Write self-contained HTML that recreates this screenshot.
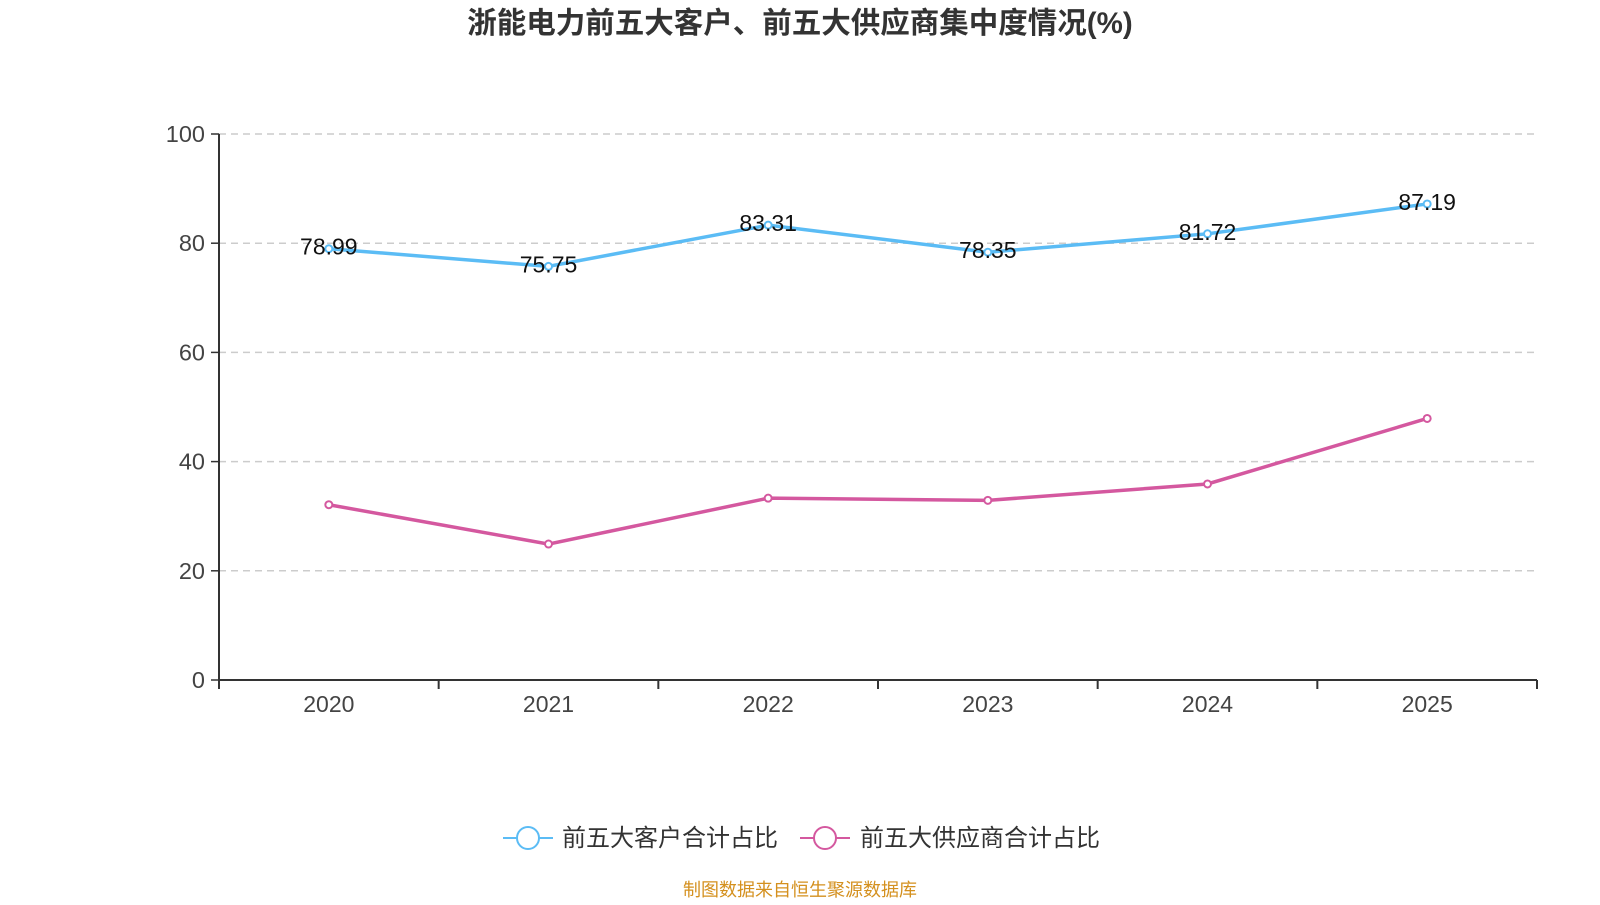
<!DOCTYPE html>
<html><head><meta charset="utf-8"><style>
body{margin:0;background:#fff;width:1600px;height:900px;overflow:hidden;font-family:"Liberation Sans","Noto Sans CJK SC",sans-serif}
</style></head><body>
<svg id="c" width="1600" height="900" xmlns="http://www.w3.org/2000/svg">
<text x="800" y="33" text-anchor="middle" font-size="29.5" font-weight="bold" fill="#333">浙能电力前五大客户、前五大供应商集中度情况(%)</text>
<g id="grid"></g><g id="axes"></g><g id="series"></g>
<g>
<g><line x1="503" y1="838" x2="553" y2="838" stroke="#5bbcf5" stroke-width="2"/><circle cx="528" cy="838" r="11" fill="#fff" stroke="#5bbcf5" stroke-width="2"/><text x="562" y="846" font-size="24" fill="#333">前五大客户合计占比</text></g>
<g><line x1="800" y1="838" x2="850" y2="838" stroke="#d4589f" stroke-width="2"/><circle cx="825" cy="838" r="11" fill="#fff" stroke="#d4589f" stroke-width="2"/><text x="860" y="846" font-size="24" fill="#333">前五大供应商合计占比</text></g>
</g>
<text x="800" y="896" text-anchor="middle" font-size="18" fill="#d4901e">制图数据来自恒生聚源数据库</text>
</svg>
<script>
const categories=["2020","2021","2022","2023","2024","2025"];
const customers=[78.99,75.75,83.31,78.35,81.72,87.19];
const suppliers=[32.1,24.9,33.3,32.9,35.9,47.9];
const yTicks=[0,20,40,60,80,100];
const NS="http://www.w3.org/2000/svg";
const L=219,R=1537,T=134,B=680;
const bw=(R-L)/categories.length;
const x=i=>L+bw*(i+0.5);
const y=v=>B-(v/100)*(B-T);
function mk(tag,attrs,parent,txt){const e=document.createElementNS(NS,tag);for(const k in attrs)e.setAttribute(k,attrs[k]);if(txt!==undefined)e.textContent=txt;document.getElementById(parent).appendChild(e);return e;}
yTicks.forEach(t=>{
 if(t>0){const g=mk('line',{x1:L,x2:R,y1:y(t),y2:y(t),stroke:'#ccc','stroke-width':1.5,'stroke-dasharray':'7,5'},'grid');
 
 }
 const tk=mk('line',{x1:L-8,x2:L,y1:y(t),y2:y(t),stroke:'#333','stroke-width':1.5},'axes');
 
 
 const lb=mk('text',{x:L-14,y:y(t)+8,'text-anchor':'end','font-size':23.5,fill:'#444'},'axes',t);
 
 
});
const ya=mk('line',{x1:L,x2:L,y1:T,y2:B,stroke:'#333','stroke-width':2},'axes');


const xa=mk('line',{x1:L,x2:R,y1:B,y2:B,stroke:'#333','stroke-width':2},'axes');


for(let i=0;i<=categories.length;i++){const tk=mk('line',{x1:L+bw*i,x2:L+bw*i,y1:B,y2:B+9,stroke:'#333','stroke-width':2},'axes');

}
categories.forEach((c,i)=>{const t=mk('text',{x:x(i),y:B+32,'text-anchor':'middle','font-size':23,fill:'#444'},'axes',c);

});
function series(vals,color,name,labels){
 const p=mk('polyline',{points:vals.map((v,i)=>x(i)+','+y(v)).join(' '),fill:'none',stroke:color,'stroke-width':3.5},'series');
 
 
 vals.forEach((v,i)=>{
  const c=mk('circle',{cx:x(i),cy:y(v),r:3.5,fill:'#fff',stroke:color,'stroke-width':2},'series');
  
  
  if(labels){const t=mk('text',{x:x(i),y:y(v)+6,'text-anchor':'middle','font-size':23,fill:'#111'},'series',v.toFixed(2));
  
  }
 });
}
series(customers,'#5bbcf5','customers',true);
series(suppliers,'#d4589f','suppliers',false);
</script>
</body></html>
